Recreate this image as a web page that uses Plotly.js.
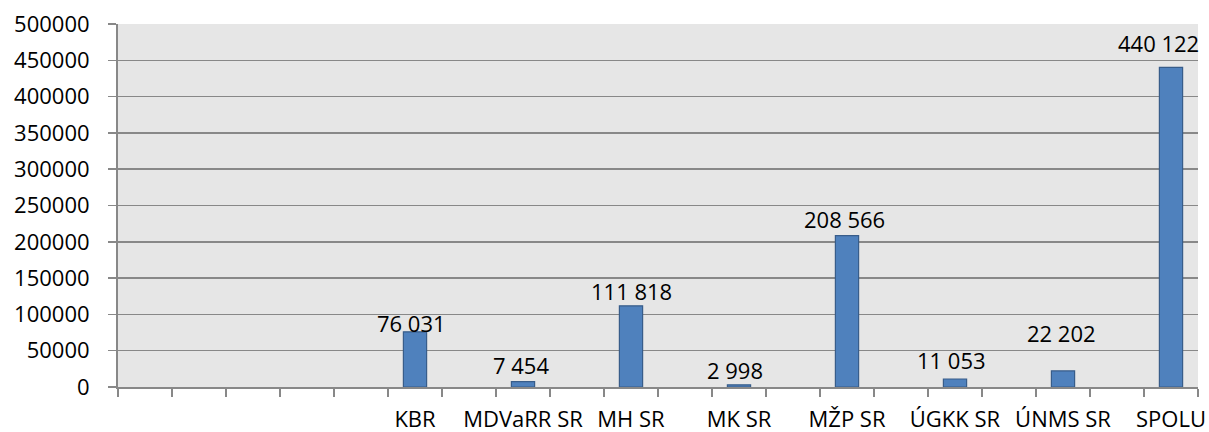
<!DOCTYPE html>
<html>
<head>
<meta charset="utf-8">
<script src="https://cdn.plot.ly/plotly-3.0.1.min.js"></script>
<style>
html,body{margin:0;padding:0;background:#fff;}
#chart{width:1209px;height:432px;}
</style>
</head>
<body>
<div id="chart"></div>
<script>
// Categories (blank slots are empty columns in the original chart)
var categories = ['', '', '', '', '', 'KBR', '', 'MDVaRR SR', '', 'MH SR', '', 'MK SR', '', 'MŽP SR', '', 'ÚGKK SR', '', 'ÚNMS SR', '', 'SPOLU'];
var values = [null, null, null, null, null, 76031, null, 7454, null, 111818, null, 2998, null, 208566, null, 11053, null, 22202, null, 440122];
var yTickValues = [0, 50000, 100000, 150000, 200000, 250000, 300000, 350000, 400000, 450000, 500000];

// label placement nudges in pixels (style only), matching the hand-placed labels of the original
var labelShiftY = { 'KBR': -8, 'MDVaRR SR': 0, 'MH SR': -2, 'MK SR': -2, 'MŽP SR': 0, 'ÚGKK SR': 2, 'ÚNMS SR': 21, 'SPOLU': 7 };
var labelShiftX = { 'KBR': -4, 'MDVaRR SR': -2, 'MH SR': 0, 'MK SR': -4, 'MŽP SR': -3, 'ÚGKK SR': -4, 'ÚNMS SR': -2, 'SPOLU': -13 };

// unique keys for blank categories so that each keeps its own slot
var keys = categories.map(function (c, i) { return c === '' ? ' '.repeat(i + 1) : c; });

var FONT = 'Open Sans, Liberation Sans, sans-serif';
var FS = 22;

function fmt(v) { return String(v).replace(/\B(?=(\d{3})+(?!\d))/g, ' '); }

var trace = {
  type: 'bar',
  x: keys,
  y: values,
  marker: { color: '#4f81bd', line: { color: '#385d8a', width: 1.2 } },
  hoverinfo: 'x+y'
};

var annotations = [];
values.forEach(function (v, i) {
  if (v === null) return;
  var c = categories[i];
  annotations.push({
    x: keys[i], y: v, xref: 'x', yref: 'y',
    text: fmt(v), showarrow: false,
    xanchor: 'center', yanchor: 'bottom',
    yshift: labelShiftY[c] || 0,
    xshift: labelShiftX[c] || 0,
    font: { family: FONT, size: FS, color: '#000' }
  });
});

var layout = {
  width: 1209, height: 432,
  margin: { l: 118, r: 11, t: 24, b: 45 },
  paper_bgcolor: '#ffffff',
  plot_bgcolor: '#e6e6e6',
  showlegend: false,
  bargap: 0.57,
  font: { family: FONT, size: FS, color: '#000' },
  annotations: annotations,
  xaxis: {
    type: 'category',
    tickson: 'boundaries',
    tickangle: 0,
    automargin: false,
    ticks: 'outside', ticklen: 8, tickwidth: 1.5, tickcolor: '#888888',
    showline: true, linecolor: '#888888', linewidth: 2,
    showgrid: false,
    ticklabelstandoff: 12,
    tickfont: { family: FONT, size: FS, color: '#000' },
    range: [-0.5, 19.5]
  },
  yaxis: {
    range: [0, 500000],
    tickvals: yTickValues,
    tickformat: 'd',
    ticks: 'outside', ticklen: 8, tickwidth: 1.5, tickcolor: '#888888',
    showline: true, linecolor: '#888888', linewidth: 2,
    showgrid: true, gridcolor: '#888888', gridwidth: 1.5,
    zeroline: false,
    automargin: false,
    ticklabelstandoff: 14,
    tickfont: { family: FONT, size: FS, color: '#000' }
  }
};

Plotly.newPlot('chart', [trace], layout, { displayModeBar: false, staticPlot: true });
</script>
</body>
</html>
